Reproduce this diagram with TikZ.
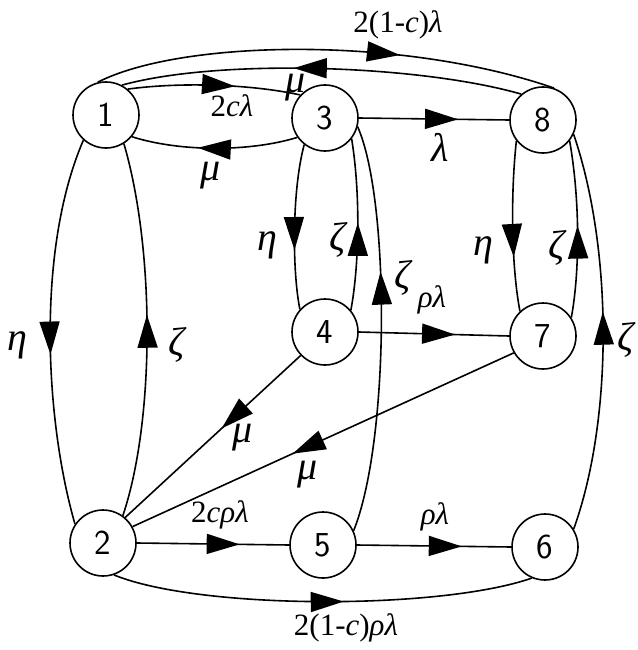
\documentclass[tikz,border=0pt]{standalone}
\usepackage{fontspec}
\setmainfont{Liberation Serif}
\usetikzlibrary{arrows.meta,decorations.markings}
\newcommand{\lbit}[1]{\textit{#1}}
\tikzset{
  st/.style={circle,draw,line width=1.6pt,minimum size=66pt,inner sep=0pt,
    font=\sffamily\fontsize{35}{35}\selectfont},
  ed/.style={line width=1.6pt},
  mk/.style={postaction={decorate},decoration={markings,
    mark=at position #1 with {\arrow{Triangle[length=33pt,width=20pt]}}}},
  lb/.style={inner sep=0pt,font=\fontsize{31}{34}\selectfont},
  gl/.style={inner sep=0pt,font=\itshape\fontsize{40}{44}\selectfont},
}
\begin{document}
\begin{tikzpicture}[x=1pt,y=-1pt]
\useasboundingbox (0,0) rectangle (637,650);
% states
\node[st] (n1) at (106,115) {1};
\node[st] (n3) at (325,118) {3};
\node[st] (n8) at (543,120) {8};
\node[st] (n4) at (325,332) {4};
\node[st] (n7) at (543,336) {7};
\node[st] (n2) at (103,543) {2};
\node[st] (n5) at (323,545) {5};
\node[st] (n6) at (545,547) {6};
% transitions
\draw[ed,mk=0.66] (n1.104) .. controls (180,40) and (400,35) .. (n8.71);
\draw[ed,mk=0.57] (n8.130) .. controls (420,65) and (220,58) .. (n1.62);
\draw[ed,mk=0.62] (n1.50) .. controls (180,82) and (250,84) .. (n3.137);
\draw[ed,mk=0.60] (n3.215) .. controls (250,152) and (180,152) .. (n1.-40);
\draw[ed,mk=0.66] (n3.east) -- (n8.west);
\draw[ed,mk=0.56] (n1.228) .. controls (36,250) and (45,420) .. (n2.146);
\draw[ed,mk=0.54] (n2.54) .. controls (155,420) and (155,250) .. (n1.-58);
\draw[ed,mk=0.64] (n3.232) .. controls (292,190) and (292,270) .. (n4.138);
\draw[ed,mk=0.51] (n4.40) .. controls (360,260) and (360,190) .. (n3.-38);
\draw[ed,mk=0.64] (n5.25) .. controls (390,440) and (390,200) .. (n3.-15);
\draw[ed,mk=0.64] (n4.east) -- (n7.west);
\draw[ed,mk=0.68] (n8.218) .. controls (510,200) and (512,270) .. (n7.133);
\draw[ed,mk=0.52] (n7.33) .. controls (580,270) and (580,200) .. (n8.-38);
\draw[ed,mk=0.55] (n6.32) .. controls (613,420) and (613,250) .. (n8.-25);
\draw[ed,mk=0.45] (n4.224) -- (n2.49);
\draw[ed,mk=0.58] (n7.210) -- (n2.29);
\draw[ed,mk=0.675] (n2.east) -- (n5.west);
\draw[ed,mk=0.68] (n5.east) -- (n6.west);
\draw[ed,mk=0.55] (n2.-71) .. controls (200,610) and (440,610) .. (n6.247);
% labels
\node[lb] (t18) at (398,25) {2(1-\lbit{c})\lbit{λ}};
\node[gl] (t81) at (296,88) {μ};
\node[lb] (t13) at (232,106) {2\lbit{cλ}};
\node[gl] (t31) at (211,176) {μ};
\node[gl] (t38) at (440,147) {λ};
\node[gl] (t12) at (17,345) {η};
\node[gl] (t21) at (177,345) {ζ};
\node[gl] (t34) at (267,245) {η};
\node[gl] (t43) at (338,240) {ζ};
\node[gl] (t53) at (403,278) {ζ};
\node[lb] (t47) at (432,300) {\lbit{ρλ}};
\node[gl] (t87) at (483,250) {η};
\node[gl] (t78) at (557,248) {ζ};
\node[gl] (t68) at (626,340) {ζ};
\node[gl] (t42) at (243,438) {μ};
\node[gl] (t72) at (308,475) {μ};
\node[lb] (t25) at (220,515) {2\lbit{cρλ}};
\node[lb] (t56) at (435,517) {\lbit{ρλ}};
\node[lb] (t26) at (346,628) {2(1-\lbit{c})\lbit{ρλ}};
\end{tikzpicture}
\end{document}
